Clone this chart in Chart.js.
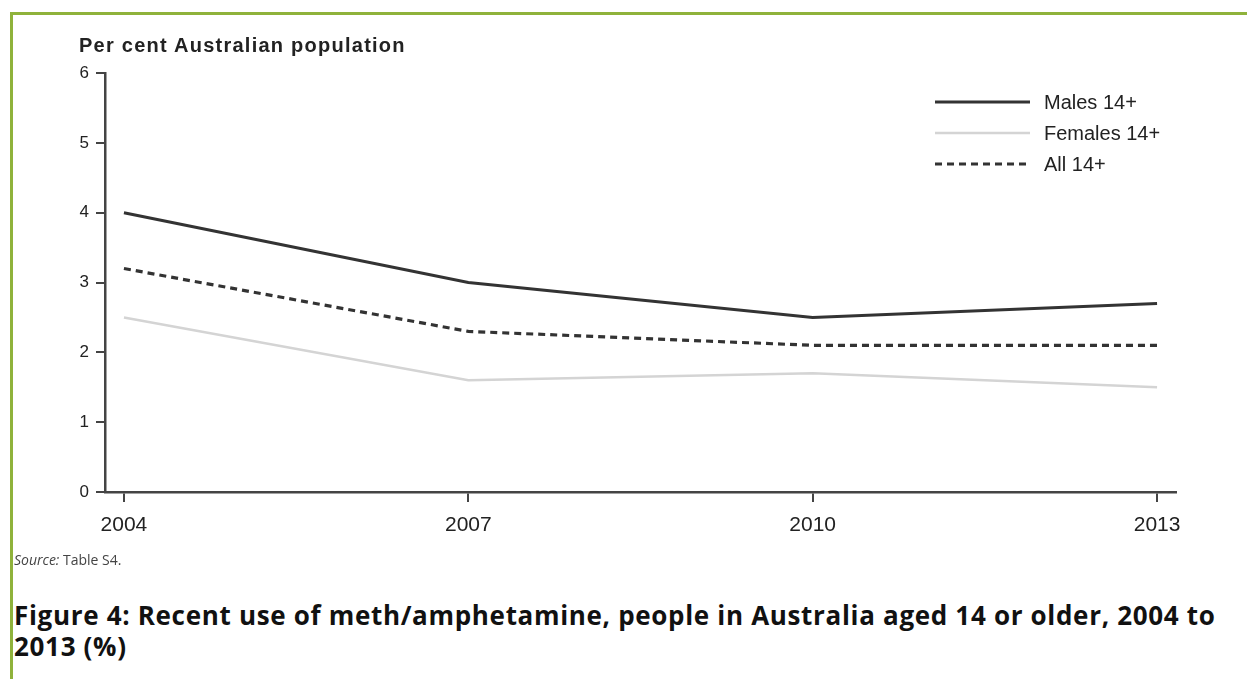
<!DOCTYPE html>
<html>
<head>
<meta charset="utf-8">
<script src="https://cdn.jsdelivr.net/npm/chart.js@4.4.1/dist/chart.umd.min.js"></script>
<style>
  html, body { margin: 0; padding: 0; background: #fff; }
  body { width: 1247px; height: 679px; position: relative; overflow: hidden; }
  #frame { position: absolute; left: 10px; top: 12px; right: 0; bottom: -10px;
           border-top: 3px solid #8fb23b; border-left: 3px solid #8fb23b; }
  #chartBox { position: absolute; left: 0; top: 0; width: 1247px; height: 560px; }
  #yTitle { position: absolute; left: 79px; top: 34px; font: bold 20px "Liberation Sans", Arial, sans-serif;
            letter-spacing: 1.25px; color: #222; line-height: 22px; }
  #source { position: absolute; left: 14px; top: 550px; font: 14px "Open Sans", sans-serif; color: #444; line-height: 20px; }
  #caption { position: absolute; left: 14px; top: 600px; font: bold 26px "Open Sans", sans-serif;
             letter-spacing: 0.68px; color: #111; line-height: 31px; white-space: nowrap; }
</style>
</head>
<body>
<div id="frame"></div>
<div id="chartBox"><canvas id="chart" width="1247" height="560"></canvas></div>
<div id="yTitle">Per cent Australian population</div>
<div id="source"><i>Source:</i> Table S4.</div>
<div id="caption">Figure 4: Recent use of meth/amphetamine, people in Australia aged 14 or older, 2004 to<br>2013 (%)</div>

<script>
// ---------- data ----------
const years = [2004, 2007, 2010, 2013];
const males = [4.0, 3.0, 2.5, 2.7];
const females = [2.5, 1.6, 1.7, 1.5];
const all14 = [3.2, 2.3, 2.1, 2.1];
const seriesLabels = ["Males 14+", "Females 14+", "All 14+"];
const yTicks = [0, 1, 2, 3, 4, 5, 6];

const pts = (vals) => years.map((y, i) => ({ x: y, y: vals[i] }));
const INK = "#444";

// legend drawn inside the plot, top right
const innerLegend = {
  id: "innerLegend",
  afterDraw(chart) {
    const ctx = chart.ctx;
    ctx.save();
    chart.data.datasets.forEach((ds, i) => {
      const y = 102 + i * 31;
      ctx.beginPath();
      ctx.strokeStyle = ds.borderColor;
      ctx.lineWidth = ds.borderWidth;
      ctx.setLineDash(ds.borderDash || []);
      ctx.moveTo(935, y);
      ctx.lineTo(1030, y);
      ctx.stroke();
      ctx.setLineDash([]);
      ctx.fillStyle = "#222";
      ctx.font = "20px 'Liberation Sans', Arial, sans-serif";
      ctx.textBaseline = "middle";
      ctx.fillText(ds.label, 1044, y + 1);
    });
    ctx.restore();
  }
};

new Chart(document.getElementById("chart").getContext("2d"), {
  type: "line",
  data: {
    datasets: [
      { label: seriesLabels[0], data: pts(males), borderColor: "#333", borderWidth: 3 },
      { label: seriesLabels[1], data: pts(females), borderColor: "#d4d4d4", borderWidth: 2.5 },
      { label: seriesLabels[2], data: pts(all14), borderColor: "#333", borderWidth: 3.2, borderDash: [7, 5] }
    ]
  },
  options: {
    responsive: false,
    animation: false,
    devicePixelRatio: 1,
    elements: { point: { radius: 0 }, line: { tension: 0 } },
    layout: { padding: { left: 0, top: 73, right: 71, bottom: 20 } },
    plugins: { legend: { display: false }, tooltip: { enabled: false }, title: { display: false } },
    scales: {
      x: {
        type: "linear",
        min: 2003.835,
        max: 2013.165,
        afterBuildTicks: (s) => { s.ticks = years.map((v) => ({ value: v })); },
        afterFit: (s) => { s.height = 48; },
        ticks: { callback: (v) => String(v), color: "#222", padding: 11,
                 font: { family: "'Liberation Sans', Arial, sans-serif", size: 21 }, maxRotation: 0 },
        grid: { drawOnChartArea: false, tickLength: 10, color: INK, lineWidth: 2 },
        border: { color: INK, width: 2.5 }
      },
      y: {
        min: 0,
        max: 6,
        afterBuildTicks: (s) => { s.ticks = yTicks.map((v) => ({ value: v })); },
        afterFit: (s) => { s.width = 105; },
        ticks: { color: "#222", padding: 7,
                 font: { family: "'Liberation Sans', Arial, sans-serif", size: 17 } },
        grid: { drawOnChartArea: false, tickLength: 9, color: INK, lineWidth: 2 },
        border: { color: INK, width: 2.5 }
      }
    }
  },
  plugins: [innerLegend]
});
</script>
</body>
</html>
